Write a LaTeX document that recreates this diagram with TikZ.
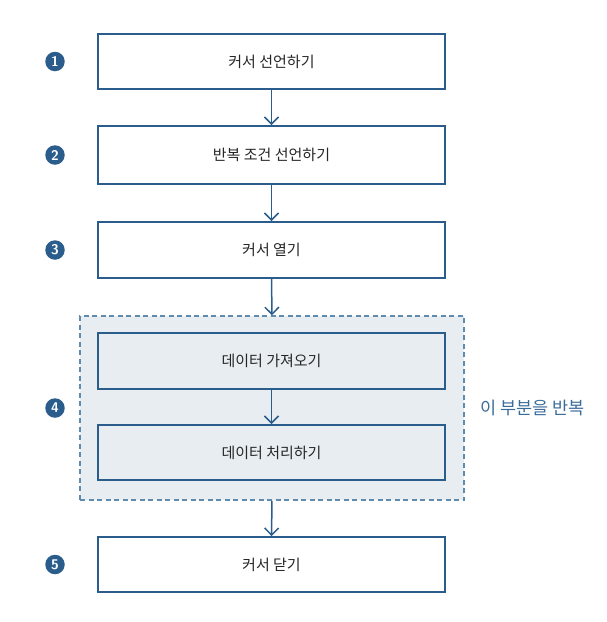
\documentclass[tikz,border=0pt]{standalone}
\usepackage{fontspec}
\newfontfamily\kr{Noto Sans CJK KR}
\usetikzlibrary{arrows.meta}
\definecolor{navy}{HTML}{2B5D8C}
\definecolor{dashc}{HTML}{5F8BAE}
\definecolor{regfill}{HTML}{E8EDF2}
\definecolor{labc}{HTML}{3A6C99}
\begin{document}
\begin{tikzpicture}[x=1pt,y=-1pt,
  stepbox/.style={draw=navy,line width=1.9pt,fill=white,minimum width=347pt,minimum height=55pt,inner sep=0pt,font=\kr\fontsize{15}{17}\selectfont,text=black!85},
  innerbox/.style={stepbox,fill=regfill},
  numdot/.style={circle,fill=navy,text=white,minimum size=19.5pt,inner sep=0pt,font=\sffamily\bfseries\fontsize{14}{14}\selectfont},
  flow/.style={draw=navy,line width=1.5pt,-{Straight Barb[length=7pt,width=14pt,line width=1.5pt]}}]
\useasboundingbox (0,0) rectangle (606,622);
\node[draw=dashc,line width=1.5pt,dash pattern=on 5pt off 3.5pt,fill=regfill,minimum width=384pt,minimum height=184pt,inner sep=0pt] (reg) at (272,408) {};
\node[stepbox] (b1) at (271.5,61.5) {커서 선언하기};
\node[stepbox,minimum height=58pt] (b2) at (271.5,155) {반복 조건 선언하기};
\node[stepbox,minimum height=56pt] (b3) at (271.5,250) {커서 열기};
\node[innerbox,minimum height=56pt] (i1) at (271.5,361) {데이터 가져오기};
\node[innerbox,minimum height=55pt] (i2) at (271.5,452.5) {데이터 처리하기};
\node[stepbox] (b5) at (271.5,564.5) {커서 닫기};
\node[numdot] (n1) at (55,61.5) {1};
\node[numdot] (n2) at (55,155) {2};
\node[numdot] (n3) at (55,250) {3};
\node[numdot] (n4) at (55,408) {4};
\node[numdot] (n5) at (55,564.5) {5};
\node[font=\kr\fontsize{17.5}{19}\selectfont,text=labc,anchor=west] (lab) at (477,408) {이 부분을 반복};
\draw[flow] (b1.south) -- (b2.north);
\draw[flow] (b2.south) -- (b3.north);
\draw[flow] (b3.south) -- (reg.north);
\draw[flow] (i1.south) -- (i2.north);
\draw[flow] (reg.south) -- (b5.north);
\end{tikzpicture}
\end{document}
